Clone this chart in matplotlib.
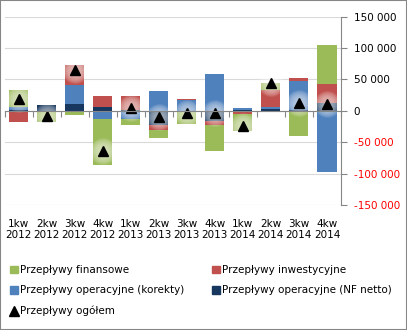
import matplotlib
matplotlib.use("Agg")
import matplotlib.pyplot as plt
import matplotlib.transforms as mtransforms
from matplotlib.patches import Patch, Rectangle
from matplotlib.lines import Line2D
import numpy as np

plt.rcParams["font.family"] = ["DejaVu Sans"]
plt.rcParams["font.size"] = 7.5

quarters = ["1kw\n2012", "2kw\n2012", "3kw\n2012", "4kw\n2012",
            "1kw\n2013", "2kw\n2013", "3kw\n2013", "4kw\n2013",
            "1kw\n2014", "2kw\n2014", "3kw\n2014", "4kw\n2014"]

# series, in stacking order (closest to zero first)
nf_netto = [1600, 9600, 11200, 6400, 1000, -22400, 500, -16000, 1600, 3200, 1600, 12000]
korekty = [4800, -2000, 30300, -12800, -12800, 32000, 16000, 59000, 3200, 2700, 46300, -96800]
inwestycyjne = [-17600, 0, 31900, 17600, 23400, -8000, 1600, -6400, -4800, 26600, 4800, 30900]
finansowe = [27100, -15000, -7400, -72900, -9000, -12200, -20200, -41000, -26600, 12200, -39400, 62200]
ogolem = [18600, -8000, 65400, -63300, 4300, -10100, -2700, -3700, -24000, 44000, 13300, 10600]

y_ticks = [-150000, -100000, -50000, 0, 50000, 100000, 150000]

GREEN = "#9BBB59"
RED = "#C0504D"
BLUE = "#4F81BD"
NAVY = "#17375E"
GRAY = "#868686"

W, H = 407, 330
fig = plt.figure(figsize=(W / 100, H / 100), dpi=100)
ax = fig.add_axes([4.5 / W, 1 - 205 / H, (341 - 4.5) / W, (205 - 16.7) / H])

x = np.arange(len(quarters))
pos_bottom = np.zeros(len(x))
neg_bottom = np.zeros(len(x))
for vals, col in [(nf_netto, NAVY), (korekty, BLUE), (inwestycyjne, RED), (finansowe, GREEN)]:
    v = np.array(vals, dtype=float)
    bottom = np.where(v >= 0, pos_bottom, neg_bottom)
    ax.bar(x, v, bottom=bottom, width=0.68, color=col, zorder=2)
    pos_bottom += np.clip(v, 0, None)
    neg_bottom += np.clip(v, None, 0)

# soft glow behind the total markers
for s in np.linspace(380, 30, 12):
    ax.scatter(x, ogolem, s=s, color="white", alpha=0.07, linewidths=0, zorder=3)
ax.plot(x, ogolem, linestyle="none", marker="^", color="black", ms=7, zorder=4)

ax.set_xlim(-0.5, len(x) - 0.5)
ax.set_ylim(-150000, 150000)

# right-hand value axis
ax.yaxis.tick_right()
ax.set_yticks(y_ticks)
ax.set_yticklabels([f"{v:,}".replace(",", " ") for v in y_ticks])
for lbl, v in zip(ax.get_yticklabels(), y_ticks):
    lbl.set_color("red" if v < 0 else "black")
ax.tick_params(axis="y", direction="out", length=4, color=GRAY, pad=5)
ax.yaxis.grid(True, color="#D9D9D9", linewidth=0.8)
ax.set_axisbelow(True)

# category axis sits on zero
ax.spines["top"].set_visible(False)
ax.spines["left"].set_visible(False)
ax.spines["right"].set_color(GRAY)
ax.spines["bottom"].set_position(("data", 0))
ax.spines["bottom"].set_color(GRAY)
ax.spines["bottom"].set_zorder(5)
ax.set_xticks(np.arange(-0.5, len(x), 1.0))
ax.set_xticklabels([])
ax.tick_params(axis="x", direction="out", length=4, color=GRAY)

trans = mtransforms.blended_transform_factory(ax.transData, ax.transAxes)
for i, q in enumerate(quarters):
    ax.text(i, -0.072, q, transform=trans, ha="center", va="top")

handles = [
    Patch(color=GREEN, label="Przepływy finansowe"),
    Patch(color=BLUE, label="Przepływy operacyjne (korekty)"),
    Line2D([], [], linestyle="none", marker="^", color="black", ms=6.5, label="Przepływy ogółem"),
    Patch(color=RED, label="Przepływy inwestycyjne"),
    Patch(color=NAVY, label="Przepływy operacyjne (NF netto)"),
]
fig.legend(handles=handles, loc="upper left", bbox_to_anchor=(10 / W, 1 - 265 / H),
           ncol=2, frameon=False, borderpad=0, borderaxespad=0,
           handlelength=0.75, handleheight=0.75, handletextpad=0.25,
           labelspacing=1.0, columnspacing=2.6)

fig.patches.append(Rectangle((0, 0), 1, 1, transform=fig.transFigure, fill=False,
                             edgecolor=GRAY, linewidth=1.5))

fig.savefig("out.png", dpi=100)
